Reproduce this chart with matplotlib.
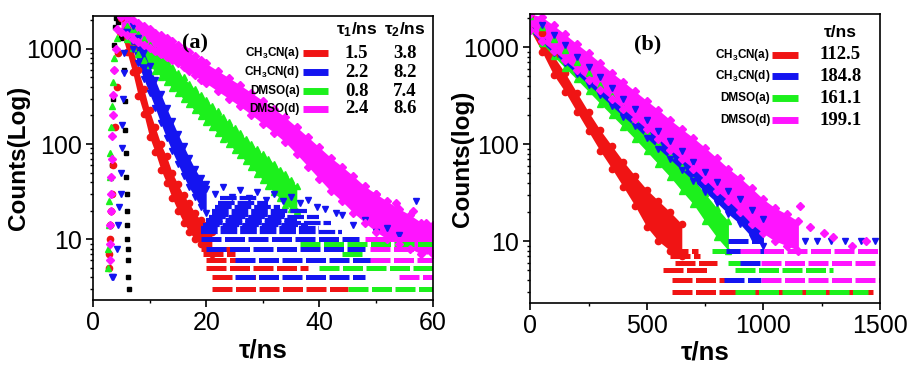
import matplotlib
matplotlib.use("Agg")
import matplotlib.pyplot as plt
from matplotlib.ticker import FixedLocator, NullFormatter, LogLocator

plt.rcParams['font.family'] = ['Liberation Sans', 'DejaVu Sans']
plt.rcParams['mathtext.fontset'] = 'custom'
plt.rcParams['mathtext.rm'] = 'Liberation Sans:bold'
plt.rcParams['mathtext.it'] = 'Liberation Sans:bold'
plt.rcParams['mathtext.bf'] = 'Liberation Sans:bold'

# ---------------- data: panel (a) ----------------
series_names = ['CH$_3$CN(a)', 'CH$_3$CN(d)', 'DMSO(a)', 'DMSO(d)']
tau1_a = ['1.5', '2.2', '0.8', '2.4']
tau2_a = ['3.8', '8.2', '7.4', '8.6']
tau_b = ['112.5', '184.8', '161.1', '199.1']

# instrument response (black)
a_irf_t = [3.4, 3.5, 3.6, 3.7, 3.8, 3.9, 4.1, 4.5, 5.0, 5.4, 5.6, 5.7, 5.8, 5.9, 6.0, 6.0, 6.1, 6.1, 6.2, 6.2, 6.2, 6.3]
a_irf_c = [60, 150, 300, 600, 1100, 1700, 2100, 1900, 1300, 600, 280, 140, 80, 45, 30, 20, 14, 10, 8, 6, 4, 3]

# rising edges
a_red_rise_t = [2.8, 2.9, 3.0, 3.1, 3.2, 3.4, 3.6, 3.9, 4.2, 4.5, 4.7]
a_red_rise_c = [5, 7, 10, 14, 20, 30, 60, 150, 400, 900, 1500]
a_blue_rise_t = [3.4, 3.6, 4.2, 4.4, 4.6, 4.9, 5.0, 5.1, 5.2, 5.3, 5.4, 5.5, 5.6]
a_blue_rise_c = [4, 4, 8, 14, 22, 30, 50, 90, 160, 300, 550, 900, 1500]
a_green_rise_t = [2.6, 2.7, 2.8, 2.9, 3.0, 3.1, 3.2, 3.3, 3.5, 3.8, 4.2]
a_green_rise_c = [5, 8, 14, 25, 45, 80, 150, 250, 450, 800, 1300]
a_mag_rise_t = [3.0, 3.05, 3.1, 3.15, 3.2, 3.25, 3.3, 3.4, 3.5, 3.6, 3.8, 4.0, 4.3]
a_mag_rise_c = [6, 9, 14, 20, 30, 45, 70, 120, 200, 330, 600, 1000, 1600]

# decay bands (upper / lower edge of the scatter cloud)
a_red_t = [5, 6, 7, 8, 9, 10, 11, 12, 13, 14, 15, 16, 17, 18, 19, 20, 21]
a_red_hi = [2100, 1600, 1020, 600, 380, 225, 150, 100, 74, 50, 38, 29, 24, 19, 16, 14, 12]
a_red_lo = [1500, 930, 570, 320, 205, 118, 82, 54, 39, 27, 20, 15, 12, 10, 9, 8, 7]

a_blue_t = [6, 7, 8, 9, 10, 11, 12, 13, 14, 15, 16, 17, 18, 19, 20]
a_blue_hi = [2100, 1750, 1300, 920, 660, 470, 335, 240, 175, 128, 96, 72, 55, 44, 38]
a_blue_lo = [1500, 1000, 700, 480, 340, 240, 165, 116, 84, 62, 46, 35, 28, 22, 19]
# scattered tail of CH3CN(d): upper points and quantised rows
a_blue_top_t = [20, 21.5, 23, 24.5, 26, 27.5, 29, 30.5, 32, 33.5, 35, 36.5, 38, 39.5, 41, 43]
a_blue_top_c = [34, 30, 35, 28, 33, 27, 31, 26, 30, 25, 28, 24, 26, 22, 21, 19]
a_blue_rows = [(12, 19, 44), (13, 19, 40), (14, 19.5, 38), (15, 20, 42), (16, 20, 36),
               (17, 20.5, 40), (18, 21, 34), (20, 21, 38), (22, 21.5, 33), (24, 22, 31),
               (27, 22.5, 29)]
a_blue_sparse_t = [44, 46, 48, 50, 52, 54, 57]
a_blue_sparse_c = [18, 14, 16, 12, 13, 11, 25]

a_green_t = [6, 7, 8, 9, 10, 11, 12, 13, 14, 15, 16, 17, 18, 19, 20, 21, 22, 23, 24, 25,
             26, 27, 28, 29, 30, 31, 32, 33, 34, 35, 36]
a_green_hi = [1750, 1600, 1420, 1250, 1100, 960, 850, 740, 650, 560, 500, 430, 380, 330, 290,
              252, 222, 192, 170, 148, 130, 113, 100, 88, 78, 70, 62, 54, 48, 42, 36]
a_green_lo = [1250, 1020, 870, 760, 670, 580, 510, 445, 390, 340, 298, 260, 225, 197, 172,
              150, 131, 114, 100, 87, 76, 66, 57, 49, 42, 36, 31, 27, 23, 21, 20]

a_mag_t = [5, 6, 7, 8, 9, 10, 11, 12, 13, 14, 15, 16, 17, 18, 19, 20, 22, 24, 26, 28,
           30, 32, 34, 36, 38, 40, 42, 44, 46, 48, 50, 52, 54, 56, 58, 60]
a_mag_hi = [2150, 2150, 2000, 1850, 1720, 1600, 1480, 1380, 1290, 1200, 1100, 1000, 920, 830,
            760, 700, 590, 495, 415, 345, 285, 235, 190, 150, 118, 92, 72, 58, 46, 36,
            30, 25, 21, 18, 15, 14]
a_mag_lo = [1500, 1400, 1280, 1180, 1100, 1020, 940, 880, 820, 770, 700, 640, 580, 525,
            475, 435, 360, 300, 248, 203, 163, 131, 104, 78, 58, 43, 32, 25, 19, 15,
            12, 10, 9, 8, 7, 7]
a_mag_out_t = [41.8, 44.6, 50, 53.5, 56.5, 58.8]
a_mag_out_c = [60, 42, 30, 24, 20, 15]

# background floor rows: (count level, t start, t end)
a_red_floor = [(8, 19, 25), (7, 19.5, 25), (6, 20, 26), (5, 20, 38), (4, 21, 30), (3, 21, 45)]
a_green_floor = [(9, 36.5, 60), (7, 44, 48), (5, 40, 60), (3, 45, 60)]
a_blue_floor = [(10, 19, 47), (8, 20, 48), (6, 25, 50), (4, 25, 48)]
a_mag_floor = [(10, 48, 60), (8, 49, 60), (6, 49, 60), (4, 54, 60)]

# ---------------- data: panel (b) ----------------
b_red_t = [0, 50, 100, 150, 200, 250, 300, 350, 400, 450, 500, 550, 600, 650]
b_red_hi = [2150, 1400, 810, 540, 340, 215, 140, 96, 66, 47, 34, 26, 20, 15]
b_red_lo = [1500, 900, 520, 345, 215, 135, 85, 56, 36, 23, 14, 10, 8, 7]

b_blue_t = [0, 50, 100, 150, 200, 250, 300, 350, 400, 450, 500, 550, 600, 650, 700,
            750, 800, 850, 900, 950, 1000]
b_blue_hi = [2150, 1700, 1330, 1040, 800, 620, 490, 380, 295, 232, 178, 138, 108, 84, 66,
             52, 41, 33, 27, 21, 17]
b_blue_lo = [1450, 1120, 870, 680, 530, 410, 320, 248, 192, 152, 116, 90, 70, 54, 42,
             32, 25, 19, 15, 11, 9]

b_green_t = [0, 50, 100, 150, 200, 250, 300, 350, 400, 450, 500, 550, 600, 650, 700, 750, 800, 850]
b_green_hi = [2100, 1620, 1220, 930, 710, 540, 410, 310, 236, 182, 137, 103, 78, 58, 43, 31, 22, 16]
b_green_lo = [1500, 1100, 810, 610, 465, 350, 262, 198, 150, 113, 84, 62, 46, 33, 24, 16, 11, 8]

b_mag_t = [0, 50, 100, 150, 200, 250, 300, 350, 400, 450, 500, 550, 600, 650, 700, 750,
           800, 850, 900, 950, 1000, 1050, 1100, 1150]
b_mag_hi = [2200, 2050, 1680, 1350, 1080, 870, 690, 545, 440, 350, 280, 225, 178, 143,
            116, 92, 72, 56, 45, 35, 27, 22, 19, 16]
b_mag_lo = [1500, 1150, 920, 730, 580, 460, 365, 290, 230, 182, 143, 114, 88, 70, 56,
            43, 33, 26, 20, 15, 12, 10, 9, 8]

b_red_floor = [(8, 590, 720), (7, 600, 730), (6, 620, 800), (5, 570, 760), (4, 610, 840), (3, 610, 1470)]
b_green_floor = [(8, 780, 880), (6, 850, 950), (5, 880, 1300), (3, 880, 1450)]
b_blue_floor = [(10, 850, 1000), (8, 840, 1020), (6, 900, 1020), (4, 830, 990)]
b_mag_floor = [(8, 900, 1500), (6, 990, 1500), (4, 990, 1500)]
b_blue_sparse_t = [1180, 1230, 1290, 1350, 1420, 1480]
b_blue_sparse_c = [10, 10, 10, 10, 10, 10]
b_mag_sparse_t = [1157, 1200, 1260, 1300, 1380, 1440]
b_mag_sparse_c = [23, 14, 12, 11, 9, 10]

RED, BLUE, GREEN, MAG = '#f01414', '#1414f0', '#1cf01c', '#ff14ff'
MS = 4.5


def band(ax, t, hi, lo, color, marker):
    ax.fill_between(t, lo, hi, color=color, lw=0)
    ax.plot(t, hi, ls='none', marker=marker, ms=MS, color=color, mec=color)
    ax.plot(t, lo, ls='none', marker=marker, ms=MS, color=color, mec=color)


def floor(ax, rows, color, lw=3.6):
    for lvl, t0, t1 in rows:
        ax.hlines(lvl, t0, t1, colors=color, lw=lw, linestyles=(0, (4, 0.7)))


def style(ax, xmax, xmajor, xminor, ylabel, ylab_x):
    ax.set_yscale('log')
    ax.set_ylim(2.3, 2200)
    ax.set_xlim(0, xmax)
    ax.yaxis.set_major_locator(FixedLocator([10, 100, 1000]))
    ax.set_yticklabels(['10', '100', '1000'])
    ax.yaxis.set_minor_locator(LogLocator(base=10, subs=range(2, 10)))
    ax.yaxis.set_minor_formatter(NullFormatter())
    ax.set_xticks(xmajor)
    ax.set_xticks(xminor, minor=True)
    ax.tick_params(which='major', direction='out', length=5, width=1.2, labelsize=18, pad=3)
    ax.tick_params(which='minor', direction='out', length=2.5, width=1.0)
    for s in ax.spines.values():
        s.set_linewidth(1.2)
    ax.set_ylabel(ylabel, fontsize=17.5, fontweight='bold')
    ax.yaxis.set_label_coords(ylab_x, 0.5)
    ax.set_xlabel('τ/ns', fontsize=18.5, fontweight='bold', labelpad=2)


def legend_block(ax, x_lab, x_seg0, x_seg1, ys, colors):
    for name, y, c in zip(series_names, ys, colors):
        ax.text(x_lab, y, name, transform=ax.transAxes, ha='right', va='center',
                fontsize=8.5, fontweight='bold')
        ax.plot([x_seg0, x_seg1], [y, y], transform=ax.transAxes, color=c, lw=5,
                solid_capstyle='butt')


fig = plt.figure(figsize=(9.11, 3.66), dpi=100)
axa = fig.add_axes([0.102, 0.180, 0.373, 0.776])
axb = fig.add_axes([0.582, 0.172, 0.384, 0.790])

# ---- panel (a) ----
axa.plot(a_irf_t, a_irf_c, ls='none', marker='s', ms=3.2, color='black')
axa.plot(a_red_rise_t, a_red_rise_c, ls='none', marker='o', ms=MS, color=RED)
floor(axa, a_red_floor, RED)
band(axa, a_red_t, a_red_hi, a_red_lo, RED, 'o')
axa.plot(a_green_rise_t, a_green_rise_c, ls='none', marker='^', ms=MS, color=GREEN)
floor(axa, a_green_floor, GREEN)
band(axa, a_green_t, a_green_hi, a_green_lo, GREEN, '^')
axa.plot(a_blue_rise_t, a_blue_rise_c, ls='none', marker='v', ms=MS, color=BLUE)
floor(axa, a_blue_floor, BLUE)
floor(axa, a_blue_rows, BLUE, lw=3.0)
band(axa, a_blue_t, a_blue_hi, a_blue_lo, BLUE, 'v')
axa.plot(a_blue_top_t, a_blue_top_c, ls='none', marker='v', ms=MS + 0.5, color=BLUE)
axa.plot(a_blue_sparse_t, a_blue_sparse_c, ls='none', marker='v', ms=MS + 0.5, color=BLUE)
axa.plot(a_mag_rise_t, a_mag_rise_c, ls='none', marker='D', ms=MS, color=MAG)
floor(axa, a_mag_floor, MAG)
band(axa, a_mag_t, a_mag_hi, a_mag_lo, MAG, 'D')
axa.plot(a_mag_out_t, a_mag_out_c, ls='none', marker='D', ms=MS, color=MAG)
style(axa, 60, [0, 20, 40, 60], [10, 30, 50], 'Counts(Log)', -0.185)

axa.text(0.30, 0.905, '(a)', transform=axa.transAxes, ha='center', va='center',
         fontsize=16, fontweight='bold', family='Liberation Serif')
rows_a = [0.870, 0.803, 0.736, 0.673]
legend_block(axa, 0.609, 0.618, 0.691, rows_a, [RED, BLUE, GREEN, MAG])
axa.text(0.776, 0.951, 'τ$_1$/ns', transform=axa.transAxes, ha='center', va='center',
         fontsize=12.5, fontweight='bold')
axa.text(0.918, 0.951, 'τ$_2$/ns', transform=axa.transAxes, ha='center', va='center',
         fontsize=12.5, fontweight='bold')
for y, v1, v2 in zip(rows_a, tau1_a, tau2_a):
    axa.text(0.776, y, v1, transform=axa.transAxes, ha='center', va='center',
             fontsize=13.5, fontweight='bold', family='Liberation Serif')
    axa.text(0.918, y, v2, transform=axa.transAxes, ha='center', va='center',
             fontsize=13.5, fontweight='bold', family='Liberation Serif')

# ---- panel (b) ----
floor(axb, b_red_floor, RED)
band(axb, b_red_t, b_red_hi, b_red_lo, RED, 'o')
floor(axb, b_green_floor, GREEN)
band(axb, b_green_t, b_green_hi, b_green_lo, GREEN, '^')
floor(axb, b_blue_floor, BLUE)
band(axb, b_blue_t, b_blue_hi, b_blue_lo, BLUE, 'v')
axb.plot(b_blue_sparse_t, b_blue_sparse_c, ls='none', marker='v', ms=MS + 0.5, color=BLUE)
floor(axb, b_mag_floor, MAG)
band(axb, b_mag_t, b_mag_hi, b_mag_lo, MAG, 'D')
axb.plot(b_mag_sparse_t, b_mag_sparse_c, ls='none', marker='D', ms=MS, color=MAG)
style(axb, 1500, [0, 500, 1000, 1500], [250, 750, 1250], 'Counts(log)', -0.16)

axb.text(0.337, 0.893, '(b)', transform=axb.transAxes, ha='center', va='center',
         fontsize=16, fontweight='bold', family='Liberation Serif')
rows_b = [0.858, 0.785, 0.709, 0.633]
legend_block(axb, 0.686, 0.691, 0.766, rows_b, [RED, BLUE, GREEN, MAG])
axb.text(0.886, 0.934, 'τ/ns', transform=axb.transAxes, ha='center', va='center',
         fontsize=12.5, fontweight='bold')
for y, v in zip(rows_b, tau_b):
    axb.text(0.886, y, v, transform=axb.transAxes, ha='center', va='center',
             fontsize=13.5, fontweight='bold', family='Liberation Serif')

fig.savefig('out.png', dpi=100)
